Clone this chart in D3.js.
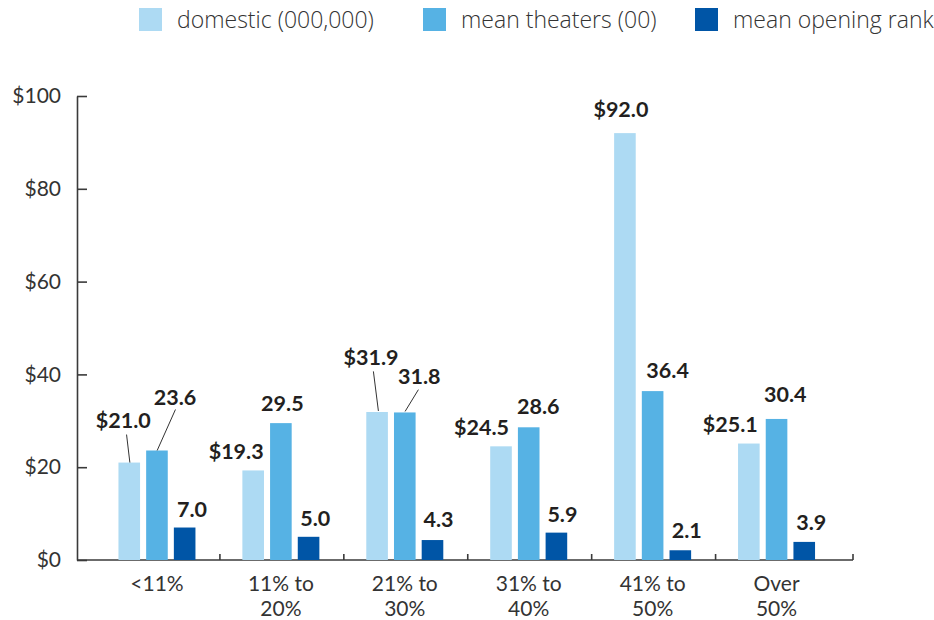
<!DOCTYPE html>
<html>
<head>
<meta charset="utf-8">
<script src="https://cdn.jsdelivr.net/npm/d3@7"></script>
<style>
  html, body { margin: 0; padding: 0; background: #fff; }
  svg { display: block; }
</style>
</head>
<body>
<svg id="chart" width="934" height="620"></svg>
<script>
// Box-office results grouped by share band
const categories = ["<11%", "11% to 20%", "21% to 30%", "31% to 40%", "41% to 50%", "Over 50%"];
const categoryLines = [["<11%"], ["11% to", "20%"], ["21% to", "30%"], ["31% to", "40%"], ["41% to", "50%"], ["Over", "50%"]];
const seriesNames = ["domestic (000,000)", "mean theaters (00)", "mean opening rank"];
const domestic = [21.0, 19.3, 31.9, 24.5, 92.0, 25.1];
const meanTheaters = [23.6, 29.5, 31.8, 28.6, 36.4, 30.4];
const meanOpeningRank = [7.0, 5.0, 4.3, 5.9, 2.1, 3.9];
const yTicks = [0, 20, 40, 60, 80, 100];

// Label placement (offset from the bar's top centre) and leader lines
const labelDx = [
  [-6, -17, -6, -19.5, -4, -18.5],
  [18, 1.5, 14.5, 9.5, 15, 8.7],
  [7.4, 6.7, 6, 6, 6.5, 7]
];
const labelGap = [
  [35, 11.6, 47, 11.6, 16, 11.7],
  [45.7, 11.7, 28.8, 13.3, 12.7, 16.7],
  [11, 11, 13, 11, 12, 12]
];
// leaders: [series, category, x0, y0, x1, y1] relative to bar top centre
const leaders = [
  [0, 0, 0.6, 0, -2.7, -28],
  [1, 0, 0.2, 0, 18.5, -41],
  [0, 2, 1.3, -1, -3.7, -40.6],
  [1, 2, 0.3, -1, 13.6, -22.8]
];

const colors = ["#ADDAF3", "#56B2E4", "#0055A6"];
const textColor = "#231F20";
const axisColor = "#3a3a3a";
const numFont = "Lato, 'Open Sans', sans-serif";

const seriesValues = [domestic, meanTheaters, meanOpeningRank];
const rows = categories.map((c, i) => ({
  cat: c,
  values: seriesValues.map((arr, s) => ({ s, v: arr[i] }))
}));

const svg = d3.select("#chart");

const axisLeftX = 77, axisRightX = 853;
const x = d3.scaleBand().domain(categories).range([96, 839.5]).paddingInner(0).paddingOuter(0);
const groupWidth = 77;
const xSub = d3.scaleBand().domain([0, 1, 2]).range([0, groupWidth]).paddingInner(0.22).paddingOuter(0);
const y = d3.scaleLinear().domain([0, 100]).range([560, 96]);

const groupLeft = c => x(c) + (x.bandwidth() - groupWidth) / 2 - 1;
const barCenter = (c, s) => groupLeft(c) + xSub(s) + xSub.bandwidth() / 2;

// Y axis
const yAxis = d3.axisLeft(y).tickValues(yTicks).tickFormat(d => "$" + d).tickSizeInner(-10).tickSizeOuter(0).tickPadding(16);
const gy = svg.append("g").attr("transform", `translate(${axisLeftX},0)`).call(yAxis);
gy.select(".domain").attr("stroke", axisColor).attr("stroke-width", 1.6);
gy.selectAll(".tick line").attr("stroke", axisColor).attr("stroke-width", 1.6);
gy.selectAll(".tick text")
  .attr("fill", "#333")
  .style("font-family", numFont)
  .style("font-size", "21px")
  .style("font-weight", 400);

// X axis baseline and separators
const gx = svg.append("g");
gx.append("line")
  .attr("x1", axisLeftX).attr("x2", axisRightX)
  .attr("y1", y(0)).attr("y2", y(0))
  .attr("stroke", axisColor).attr("stroke-width", 1.6);
const sepX = categories.slice(1).map(c => x(c)).concat([axisRightX]);
gx.selectAll("line.sep").data(sepX).join("line")
  .attr("class", "sep")
  .attr("x1", d => d).attr("x2", d => d)
  .attr("y1", y(0)).attr("y2", y(0) - 6)
  .attr("stroke", axisColor).attr("stroke-width", 1.6);

// Category labels
const catG = svg.append("g");
categories.forEach((c, i) => {
  const cx = x(c) + x.bandwidth() / 2 - 1;
  const t = catG.append("text")
    .attr("x", cx)
    .attr("y", 591)
    .attr("text-anchor", "middle")
    .attr("fill", "#333")
    .style("font-family", numFont)
    .style("font-size", "21px");
  categoryLines[i].forEach((line, k) => {
    t.append("tspan").attr("x", cx).attr("dy", k === 0 ? 0 : 25).text(line);
  });
});

// Bars
const groups = svg.append("g").selectAll("g").data(rows).join("g")
  .attr("transform", d => `translate(${groupLeft(d.cat)},0)`);
groups.selectAll("rect").data(d => d.values).join("rect")
  .attr("x", d => xSub(d.s))
  .attr("width", xSub.bandwidth())
  .attr("y", d => y(d.v))
  .attr("height", d => y(0) - y(d.v))
  .attr("fill", d => colors[d.s]);

// Leader lines
svg.append("g").selectAll("line").data(leaders).join("line")
  .attr("x1", d => barCenter(categories[d[1]], d[0]) + d[2])
  .attr("y1", d => y(seriesValues[d[0]][d[1]]) + d[3])
  .attr("x2", d => barCenter(categories[d[1]], d[0]) + d[4])
  .attr("y2", d => y(seriesValues[d[0]][d[1]]) + d[5])
  .attr("stroke", "#333").attr("stroke-width", 1);

// Value labels
const labels = [];
seriesValues.forEach((arr, s) => arr.forEach((v, i) => labels.push({ s, i, v })));
svg.append("g").selectAll("text").data(labels).join("text")
  .attr("x", d => barCenter(categories[d.i], d.s) + labelDx[d.s][d.i])
  .attr("y", d => y(d.v) - labelGap[d.s][d.i])
  .attr("text-anchor", "middle")
  .attr("fill", textColor)
  .style("font-family", numFont)
  .style("font-size", "21.5px")
  .style("font-weight", 700)
  .text(d => (d.s === 0 ? "$" : "") + d.v.toFixed(1));

// Legend
const legendX = [139, 423, 695];
const legend = svg.append("g").selectAll("g").data(seriesNames).join("g")
  .attr("transform", (d, i) => `translate(${legendX[i]},8)`);
legend.append("rect").attr("width", 23).attr("height", 23).attr("fill", (d, i) => colors[i]);
legend.append("text")
  .attr("x", 38).attr("y", 20)
  .attr("fill", "#333")
  .style("font-family", "'Open Sans', sans-serif")
  .style("font-size", "23px")
  .style("font-weight", 300)
  .text(d => d);
</script>
</body>
</html>
